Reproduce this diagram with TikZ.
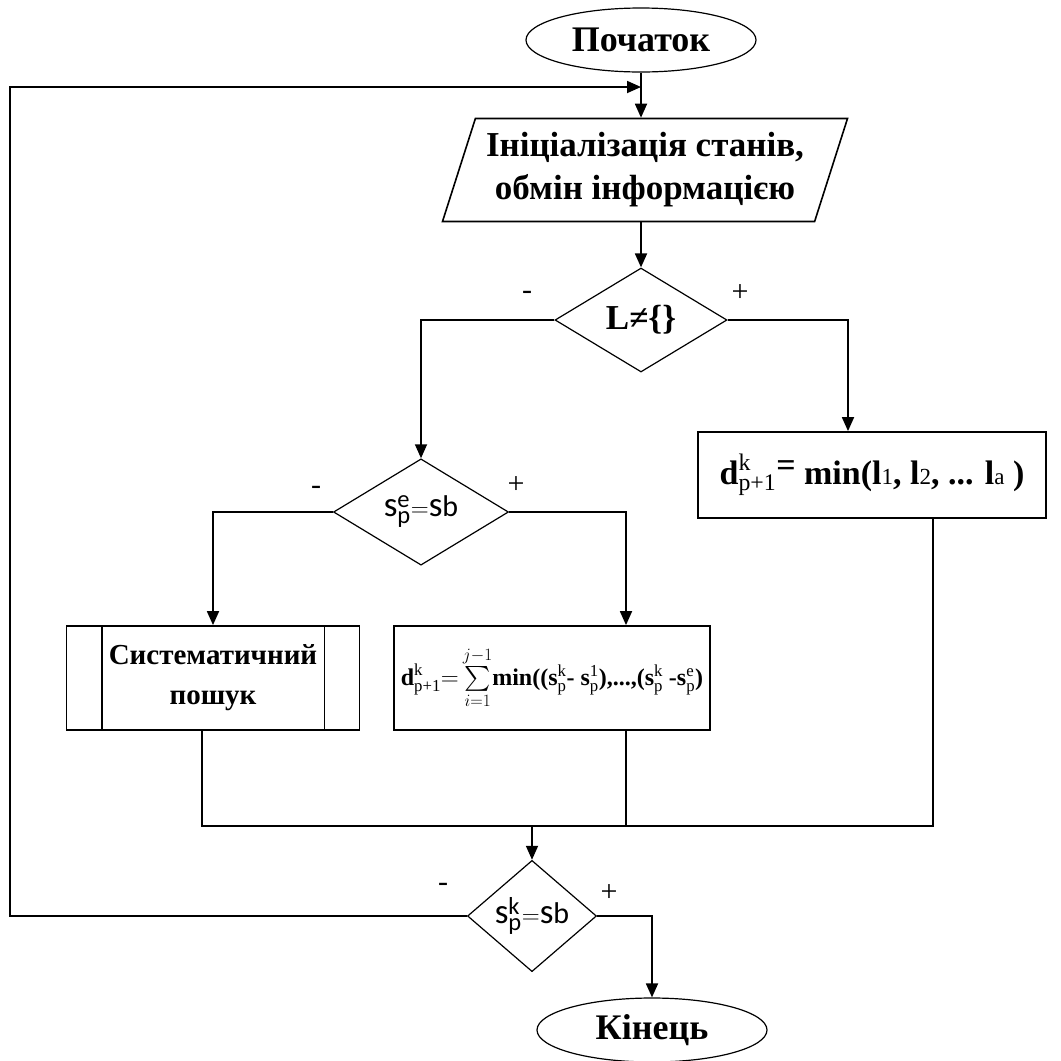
\documentclass[tikz,border=0pt]{standalone}
\usepackage{amsmath}
\usepackage{fontspec}
\setmainfont{Liberation Serif}
\newfontfamily\sansfnt{Carlito}
\usetikzlibrary{arrows.meta,shapes.geometric,calc}
\newcommand\tn[1]{\textnormal{#1}}
\newcommand\idx[1]{{\fontsize{23}{23}\selectfont\mdseries #1}}
\tikzset{>={Triangle[length=14pt,width=12pt]}, line/.style={line width=1.8pt},
term/.style={draw, ellipse, line width=1.2pt, minimum width=230pt, minimum height=64pt, inner sep=0pt, font=\bfseries\fontsize{36}{40}\selectfont},
io/.style={draw, trapezium, trapezium left angle=68, trapezium right angle=112, trapezium stretches body, minimum width=405pt, minimum height=103pt, line width=1.6pt, align=center, font=\bfseries\fontsize{35}{43}\selectfont},
cond/.style={draw, diamond, inner sep=0pt, line width=1.2pt, font=\fontsize{35}{38}\selectfont},
box/.style={draw, line width=1.8pt, align=center, inner sep=0pt, font=\bfseries\fontsize{29}{40}\selectfont},
sign/.style={font=\fontsize{30}{32}\selectfont}}

\begin{document}
\begin{tikzpicture}[x=1pt, y=-1pt]
\useasboundingbox (0,0) rectangle (1061,1061);
% Terminals and blocks
\node[term] (start) at (641,40) {Початок};
\node[io] (init) at (645,170) {Ініціалізація станів,\\обмін інформацією};
\node[cond, minimum width=172pt, minimum height=104pt, font=\bfseries\fontsize{35}{36}\selectfont] (cond1) at (641,320) {L≠\{\}};
\node[box, minimum width=348pt, minimum height=86pt, font=\bfseries\fontsize{34}{36}\selectfont] (dbox) at (872,475) {$\textbf{d}^{\tn{k}}_{\tn{p+1}}$\raisebox{8pt}{=} min(l\idx{1}, l\idx{2}, ... l\idx{a} )};
\node[cond, minimum width=175pt, minimum height=101pt] (cond2) at (421,512) {\sansfnt s$^{\text{e}}_{\text{p}}{=}$s{\fontsize{30}{30}\selectfont b}};
\node[box, minimum width=293pt, minimum height=104pt] (sbox) at (213,678) {Систематичний\\пошук};
\node[box, minimum width=316pt, minimum height=104pt, font=\bfseries\fontsize{24}{30}\selectfont] (fbox) at (552,678) {$\textbf{d}^{\tn{k}}_{\tn{p+1}}{=}\sum\limits_{i=1}^{j-1}$min(($\textbf{s}^{\tn{k}}_{\tn{p}}$- $\textbf{s}^{\tn{1}}_{\tn{p}}$),...,($\textbf{s}^{\tn{k}}_{\tn{p}}$ -$\textbf{s}^{\tn{e}}_{\tn{p}}$)};
\node[cond, minimum width=129pt, minimum height=86pt] (check) at (532,916) {\sansfnt s$^{\text{k}}_{\text{p}}{=}$s{\fontsize{30}{30}\selectfont b}};
\node[term] (stop) at (652,1030) {Кінець};
\draw[line] ([xshift=36pt]sbox.north west) -- ([xshift=36pt]sbox.south west);
\draw[line] ([xshift=-36pt]sbox.north east) -- ([xshift=-36pt]sbox.south east);

% Signs
\node[sign] (neg1) at (527,295) {-};
\node[sign] (pos1) at (740,293) {+};
\node[sign] (neg2) at (316,490) {-};
\node[sign] (pos2) at (516,485) {+};
\node[sign] (neg3) at (443,887) {-};
\node[sign] (pos3) at (609,893) {+};

% Connectors
\coordinate (join) at (start.south |- 0,87);
\coordinate (lft) at (10,87);
\coordinate (mrg) at (check.north |- 0,826);
\draw[->,line] (start.south) -- (start.south |- init.north);
\draw[->,line] (cond1.north |- init.south) -- (cond1.north);
\draw[->,line] (cond1.west) -| (cond2.north);
\draw[->,line] (cond1.east) -| ([xshift=-24pt]dbox.north);
\draw[->,line] (cond2.west) -| (sbox.north);
\draw[->,line] (cond2.east) -| ([xshift=74pt]fbox.north);
\draw[line] ([xshift=-11pt]sbox.south) |- ([xshift=61pt]dbox.south |- mrg) -- ([xshift=61pt]dbox.south);
\draw[line] ([xshift=74pt]fbox.south) -- ([xshift=74pt]fbox.south |- mrg);
\draw[->,line] (mrg) -- (check.north);
\draw[->,line] (check.west) -| (lft) -- (join);
\draw[->,line] (check.east) -| (stop.north);
\end{tikzpicture}
\end{document}
